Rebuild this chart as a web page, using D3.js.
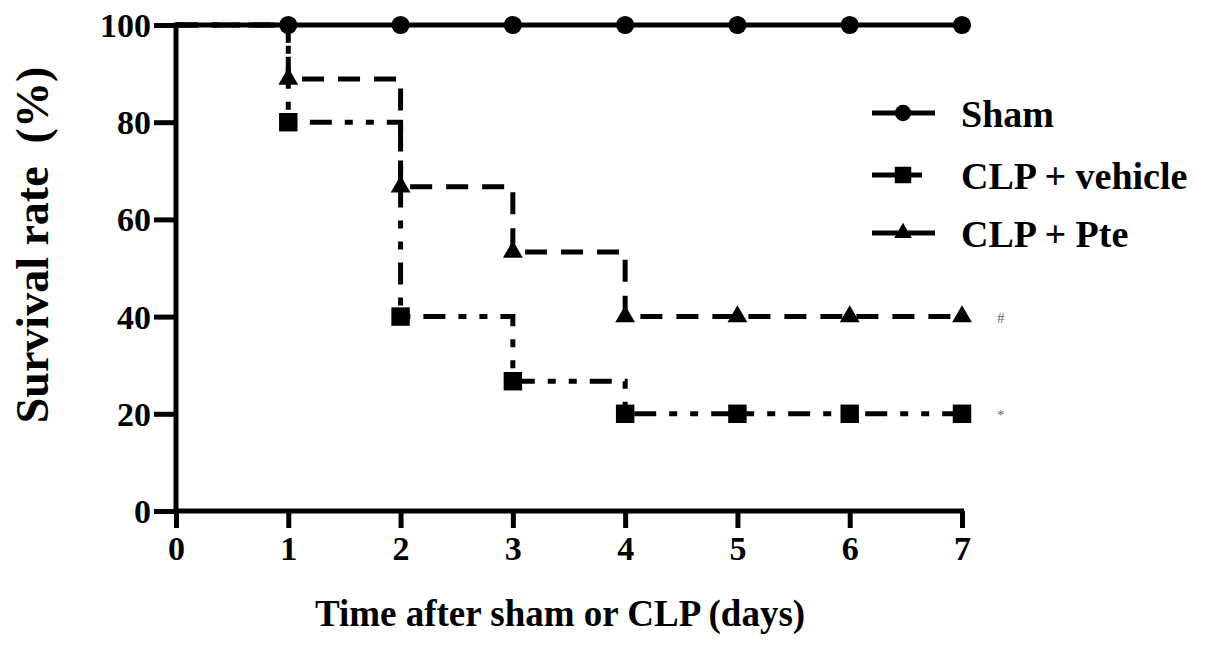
<!DOCTYPE html>
<html><head><meta charset="utf-8">
<script src="https://cdn.jsdelivr.net/npm/d3@7"></script>
<style>body{margin:0;background:#fff}svg{display:block}text{font-family:"Liberation Serif","Times New Roman",serif;font-weight:bold}</style>
</head><body><svg id="c" width="1205" height="651"></svg>
<script>
const days = [0,1,2,3,4,5,6,7];
const sham = [100,100,100,100,100,100,100,100];
const vehicle = [100,80,40,26.7,20,20,20,20];
const pte = [100,88.9,66.7,53.3,40,40,40,40];
const seriesNames = ["Sham","CLP + vehicle","CLP + Pte"];
const xTicks = [0,1,2,3,4,5,6,7];
const yTicks = [0,20,40,60,80,100];
const annotations = [{label:"#", value:40},{label:"*", value:20}];

const svg = d3.select("#c");
const x = d3.scaleLinear().domain([0,7]).range([176,962]);
const y = d3.scaleLinear().domain([0,100]).range([511,25]);

// axes
const ax = svg.append("g").attr("transform","translate(0,511)")
  .call(d3.axisBottom(x).tickValues(xTicks).tickFormat(d3.format("d")).tickSize(17).tickPadding(8).tickSizeOuter(0));
const ay = svg.append("g").attr("transform","translate(176,0)")
  .call(d3.axisLeft(y).tickValues(yTicks).tickFormat(d3.format("d")).tickSize(22).tickPadding(3).tickSizeOuter(0));
[ax,ay].forEach(g=>{
  g.attr("font-family",null);
  g.select(".domain").attr("stroke","#000").attr("stroke-width",5);
  g.selectAll(".tick line").attr("stroke","#000").attr("stroke-width",5);
  g.selectAll(".tick text").attr("fill","#000").style("font-size","34px");
});
ax.select(".domain").attr("d","M173.5,0H964");
ay.select(".domain").attr("d","M0,22.5V513.5");
ay.selectAll(".tick text").attr("dy","0.34em");
ax.selectAll(".tick text").attr("dy","0.72em");

const line = d3.line().x((d,i)=>x(days[i])).y(d=>y(d)).curve(d3.curveStepAfter);
const styles = [
  {data:sham, dash:null, marker:"circle"},
  {data:vehicle, dash:"22,13,8,13,8,13", marker:"square"},
  {data:pte, dash:"22,14", marker:"triangle"}
];
const symType = {circle:d3.symbolCircle, square:d3.symbolSquare, triangle:d3.symbolTriangle};
const symSize = {circle:260, square:340, triangle:170};

[1,2,0].forEach(k=>{
  const s = styles[k];
  svg.append("path").attr("d",line(s.data)).attr("fill","none").attr("stroke","#000")
    .attr("stroke-width",5).attr("stroke-dasharray",s.dash);
  svg.append("g").selectAll("path").data(s.data.slice(1)).join("path")
    .attr("transform",(d,i)=>`translate(${x(days[i+1])},${y(d)})`)
    .attr("d",d3.symbol().type(symType[s.marker]).size(symSize[s.marker])).attr("fill","#000");
});

// legend
const legY = [113,175,233];
styles.forEach((s,k)=>{
  const g = svg.append("g");
  g.append("line").attr("x1",872).attr("x2",k===1?922:935).attr("y1",legY[k]).attr("y2",legY[k])
    .attr("stroke","#000").attr("stroke-width",5);
  g.append("path").attr("transform",`translate(903,${legY[k]})`)
    .attr("d",d3.symbol().type(symType[s.marker]).size(symSize[s.marker]*0.8)).attr("fill","#000");
  g.append("text").attr("x",961).attr("y",legY[k]).attr("dy","0.36em").style("font-size","38px").text(seriesNames[k]);
});

// annotations
annotations.forEach(a=>{
  svg.append("text").attr("x",997).attr("y",y(a.value)).attr("dy","0.4em")
    .attr("fill","#666").style("font-size","15px").style("font-weight","normal").text(a.label);
});

// axis titles
svg.append("text").attr("x",560).attr("y",626).attr("text-anchor","middle").style("font-size","37px")
  .text("Time after sham or CLP (days)");
svg.append("text").attr("transform","translate(48,245) rotate(-90)").attr("text-anchor","middle")
  .style("font-size","46px").text("Survival rate\u00a0\u00a0(%)");
</script></body></html>
